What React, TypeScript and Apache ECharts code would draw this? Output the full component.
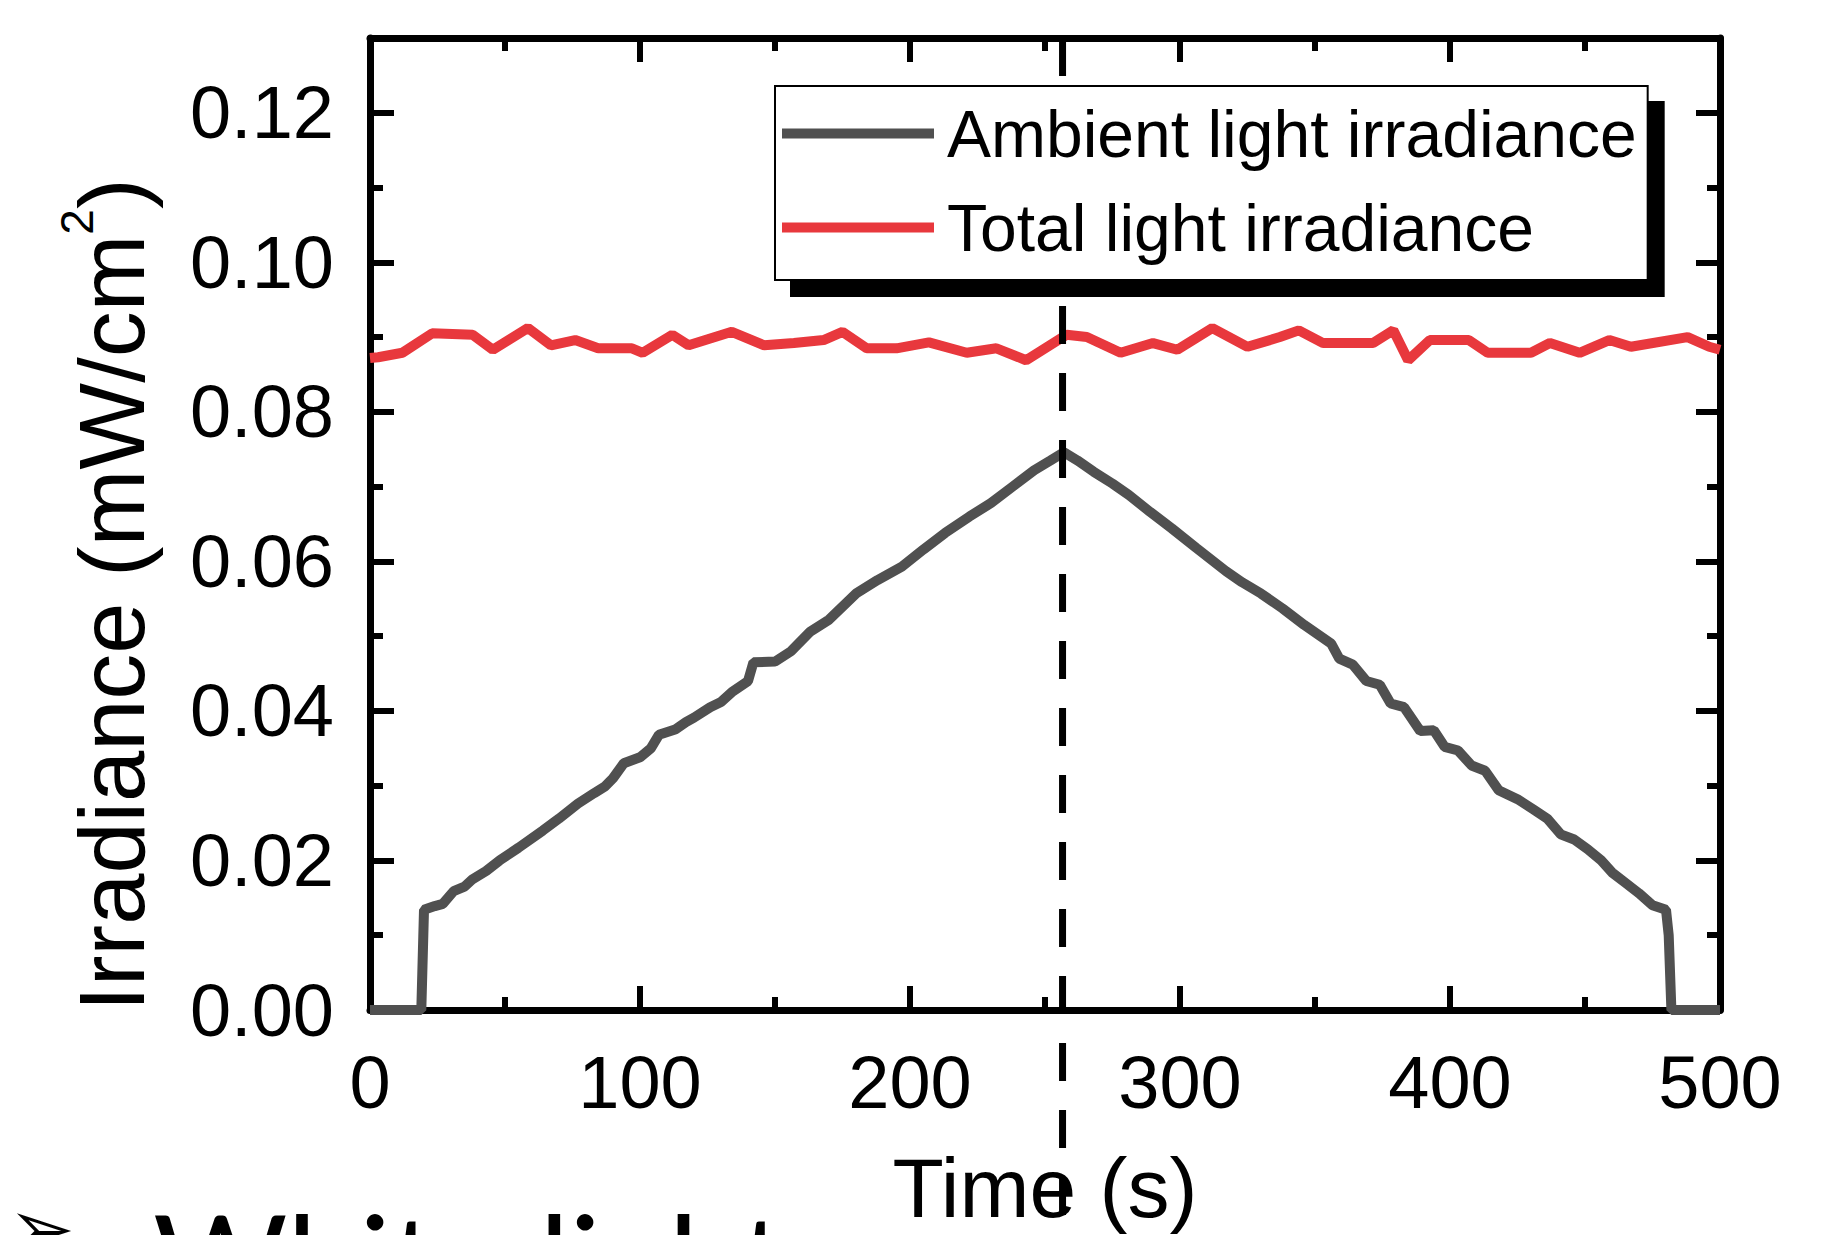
import React, { useEffect, useRef } from "react";
import * as echarts from "echarts";

// ---- Data ----
const ambientTime = [0, 19, 20, 24, 27, 31, 35, 38, 43, 48, 55, 64, 70, 77, 83, 87, 90, 94, 100, 104, 107, 113, 117, 120, 126, 130, 134, 140, 142, 150, 156, 163, 170, 180, 188, 197, 205, 213, 222, 230, 238, 246, 252, 257, 262, 268, 275, 281, 289, 297, 306, 317, 323, 330, 338, 346, 352, 356, 359, 364, 369, 374, 378, 383, 389, 394, 398, 403, 408, 413, 418, 425, 431, 436, 441, 446, 451, 456, 460, 465, 470, 475, 480, 481, 482, 500];
const ambientValue = [0, 0, 0.0134, 0.0139, 0.0142, 0.0159, 0.0165, 0.0175, 0.0186, 0.02, 0.0217, 0.024, 0.0256, 0.0276, 0.029, 0.0299, 0.031, 0.033, 0.0338, 0.035, 0.0368, 0.0375, 0.0385, 0.0391, 0.0405, 0.0412, 0.0425, 0.044, 0.0465, 0.0466, 0.048, 0.0506, 0.0522, 0.0557, 0.0575, 0.0593, 0.0616, 0.0638, 0.066, 0.0678, 0.07, 0.0722, 0.0735, 0.0746, 0.0735, 0.072, 0.0704, 0.0689, 0.0666, 0.0644, 0.0618, 0.0587, 0.0572, 0.0557, 0.0537, 0.0515, 0.05, 0.049, 0.047, 0.0462, 0.044, 0.0435, 0.041, 0.0405, 0.0373, 0.0374, 0.0352, 0.0347, 0.0327, 0.032, 0.0294, 0.0282, 0.0268, 0.0256, 0.0235, 0.0228, 0.0215, 0.02, 0.0184, 0.017, 0.0156, 0.014, 0.0134, 0.01, 0, 0];

const totalTime = [0, 3, 12, 23, 38, 45.5, 58.5, 67, 76, 84.5, 97, 101, 112, 118, 134, 146, 157, 168, 175, 184, 195, 207, 221, 232, 243, 258, 265.5, 278, 290, 299, 312, 325, 337, 344, 353, 371.5, 379, 384.5, 392.5, 407, 414, 430, 437, 448, 459, 467, 488, 496, 500];
const totalValue = [0.0872, 0.0873, 0.0879, 0.0905, 0.0903, 0.0883, 0.0912, 0.0889, 0.0896, 0.0885, 0.0885, 0.0879, 0.0903, 0.0889, 0.0907, 0.0889, 0.0892, 0.0896, 0.0907, 0.0885, 0.0885, 0.0893, 0.0879, 0.0885, 0.0869, 0.0903, 0.09, 0.0879, 0.0892, 0.0883, 0.0912, 0.0887, 0.09, 0.0909, 0.0892, 0.0892, 0.0909, 0.0869, 0.0896, 0.0896, 0.0879, 0.0879, 0.0892, 0.0879, 0.0896, 0.0887, 0.09, 0.0887, 0.0883];

const seriesNames = ["Ambient light irradiance", "Total light irradiance"];
const seriesColors = ["#505050", "#e8383d"];
const xTicks = { min: 0, max: 500, interval: 100 };
const yTicks = { min: 0, max: 0.13, interval: 0.02 };
const peakTime = 256.5;
const xTitle = "Time (s)";
const slideText = "White light";

const FONT = "'Liberation Sans', Arial, sans-serif";

const pairs = (xs: number[], ys: number[]) => xs.map((x, i) => [x, ys[i]]);

export default function App() {
  const ref = useRef<HTMLDivElement>(null);
  useEffect(() => {
    if (!ref.current) return;
    const chart = echarts.init(ref.current, null, { renderer: "svg" });
    const axisLine = { show: true, onZero: false, lineStyle: { color: "#000", width: 7 } };
    const axisTick = { show: true, inside: true, length: 24, lineStyle: { color: "#000", width: 6 } };
    const minorTick = { show: true, splitNumber: 2, length: 13, lineStyle: { color: "#000", width: 6 } };
    const xBase = { type: "value", ...xTicks, axisLine, axisTick, minorTick, splitLine: { show: false } };
    const yBase = { type: "value", ...yTicks, axisLine, axisTick, minorTick, splitLine: { show: false } };
    chart.setOption({
      animation: false,
      backgroundColor: "#fff",
      grid: { left: 370, right: 123, top: 38, bottom: 224 },
      legend: {
        orient: "vertical",
        left: 775,
        top: 86,
        icon: "rect",
        itemWidth: 152,
        itemHeight: 10,
        itemGap: 9,
        padding: [5, 11, 10, 7],
        backgroundColor: "#fff",
        borderColor: "#000",
        borderWidth: 2,
        shadowColor: "#000",
        shadowBlur: 0,
        shadowOffsetX: 16,
        shadowOffsetY: 16,
        textStyle: { fontFamily: FONT, fontSize: 66, lineHeight: 85, color: "#000", padding: [0, 0, 0, 8] },
        data: seriesNames,
      },
      xAxis: [
        {
          ...xBase,
          position: "bottom",
          name: xTitle,
          nameLocation: "middle",
          nameGap: 136,
          nameTextStyle: { fontFamily: FONT, fontSize: 84, color: "#000" },
          axisLabel: { fontFamily: FONT, fontSize: 74, color: "#000", margin: 35 },
        },
        { ...xBase, position: "top", axisLabel: { show: false } },
      ],
      yAxis: [
        {
          ...yBase,
          position: "left",
          name: "{t|Irradiance (mW/cm}{s|2}{t|)}",
          nameLocation: "middle",
          nameRotate: 90,
          nameGap: 200,
          nameTextStyle: {
            padding: [0, 142, 0, 0],
            rich: {
              t: { fontFamily: FONT, fontSize: 92, lineHeight: 116, color: "#000" },
              s: { fontFamily: FONT, fontSize: 46, lineHeight: 46, verticalAlign: "top", color: "#000" },
            },
          },
          axisLabel: {
            fontFamily: FONT,
            fontSize: 74,
            color: "#000",
            margin: 36,
            showMaxLabel: false,
            formatter: (v: number) => v.toFixed(2),
          },
        },
        { ...yBase, position: "right", axisLabel: { show: false } },
      ],
      series: [
        {
          name: seriesNames[0],
          type: "line",
          data: pairs(ambientTime, ambientValue),
          showSymbol: false,
          symbol: "none",
          color: seriesColors[0],
          lineStyle: { color: seriesColors[0], width: 10 },
          z: 2,
        },
        {
          name: seriesNames[1],
          type: "line",
          data: pairs(totalTime, totalValue),
          showSymbol: false,
          symbol: "none",
          color: seriesColors[1],
          lineStyle: { color: seriesColors[1], width: 10 },
          z: 2,
        },
      ],
    });
    const px = chart.convertToPixel({ xAxisIndex: 0 }, peakTime) as number;
    const pyTop = chart.convertToPixel({ yAxisIndex: 0 }, yTicks.max) as number;
    chart.setOption({
      graphic: [
        {
          type: "line",
          z: 3,
          shape: { x1: px, y1: pyTop, x2: px, y2: 1235 },
          style: { stroke: "#000", lineWidth: 7, lineDash: [38, 29] },
        },
        {
          type: "text",
          left: 8,
          top: 1188,
          style: { text: "➢", fontSize: 80, fontFamily: "'DejaVu Sans'", fill: "#000" },
        },
        {
          type: "text",
          left: 153,
          top: 1194,
          style: { text: slideText, fontSize: 130, fontFamily: "Lato, 'Open Sans', sans-serif", fill: "#000" },
        },
      ],
    });
    return () => chart.dispose();
  }, []);
  return (
    <div
      ref={ref}
      style={{ position: "absolute", left: 0, top: 0, width: 1843, height: 1235, background: "#fff" }}
    />
  );
}
